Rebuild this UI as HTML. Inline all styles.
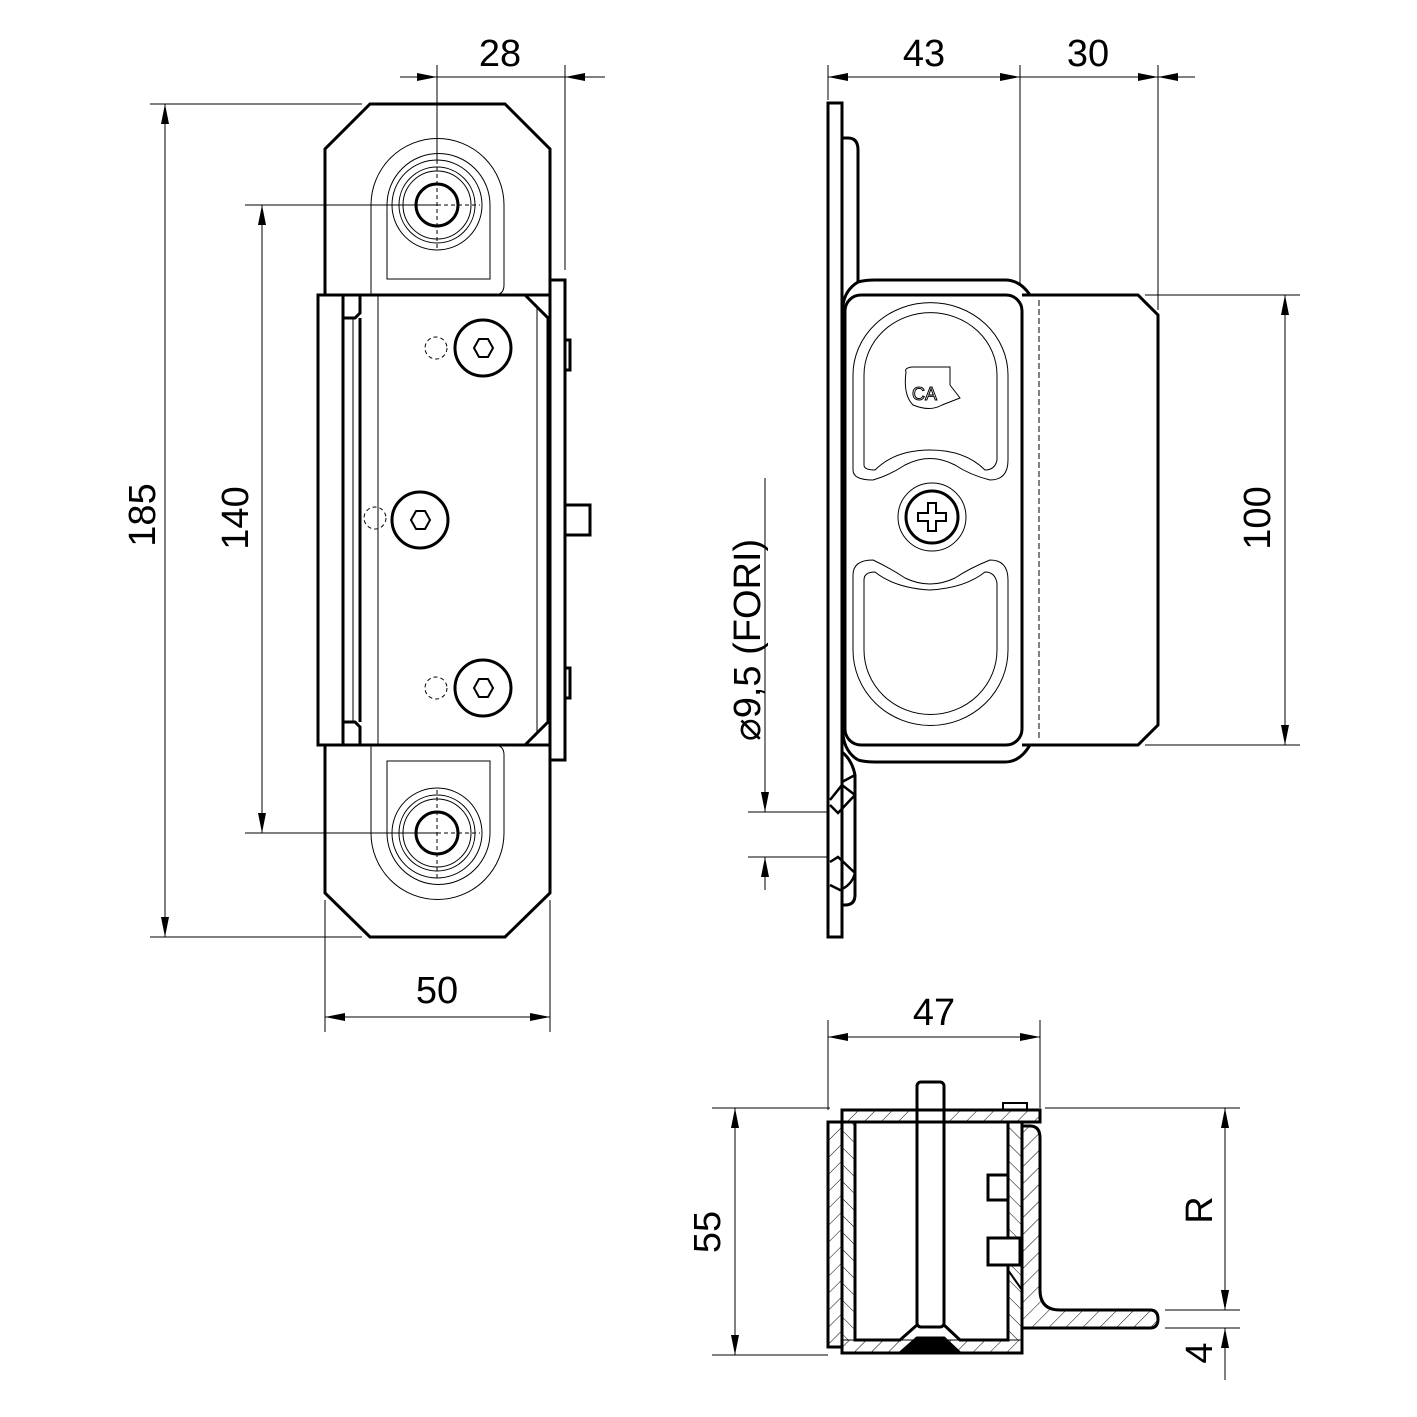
<!DOCTYPE html>
<html><head><meta charset="utf-8"><style>html,body{margin:0;padding:0;background:#fff}svg{display:block}</style></head>
<body>
<svg width="1417" height="1417" viewBox="0 0 1417 1417" xmlns="http://www.w3.org/2000/svg" font-family="Liberation Sans, sans-serif">
<defs>
<marker id="a" viewBox="0 0 20 8" refX="20" refY="4" markerWidth="20" markerHeight="8" orient="auto-start-reverse" markerUnits="userSpaceOnUse"><path d="M0,0 L20,4 L0,8 z" fill="#000"/></marker>
<pattern id="h" width="12" height="12" patternUnits="userSpaceOnUse" patternTransform="rotate(45)"><line x1="0" y1="0" x2="0" y2="12" stroke="#000" stroke-width="1"/></pattern>
<pattern id="h2" width="12" height="12" patternUnits="userSpaceOnUse" patternTransform="rotate(-45)"><line x1="0" y1="0" x2="0" y2="12" stroke="#000" stroke-width="1"/></pattern>
</defs>
<g fill="none" stroke="#000">
<!-- ===== FRONT VIEW ===== -->
<g stroke-width="3">
<path d="M325,295 V149 L370,104 H505 L550,149 V295"/>
<path d="M325,745 V893 L370,937 H505 L550,893 V745"/>
<rect x="318" y="295" width="232" height="450"/>
<rect x="550" y="280" width="15" height="480"/>
<line x1="343" y1="295" x2="343" y2="745"/>
<line x1="360" y1="318" x2="360" y2="722"/>
<path d="M343,318 H355 L360,313 V295"/>
<path d="M343,722 H355 L360,727 V745"/>
<path d="M525,295 L548,318 V722 L525,745"/>
<rect x="565" y="340" width="5" height="30"/>
<rect x="565" y="668" width="5" height="30"/>
<rect x="565" y="505" width="25" height="30"/>
</g>
<g stroke-width="1">
<line x1="378" y1="295" x2="378" y2="745"/>
<line x1="537" y1="308" x2="537" y2="732"/>
<line x1="353" y1="318" x2="353" y2="722"/>
<path d="M371,295 V205 A66,66 0 0 1 504,205 V285 Q504,295 494,295"/>
<path d="M387,279 V205 A50,50 0 0 1 490,205 V279 Z"/>
<circle cx="437" cy="205" r="45"/><circle cx="437" cy="205" r="38"/><circle cx="437" cy="205" r="34"/>
<path d="M371,745 V833 A66,66 0 0 0 504,833 V755 Q504,745 494,745"/>
<path d="M387,761 V833 A50,50 0 0 0 490,833 V761 Z"/>
<circle cx="437" cy="833" r="45"/><circle cx="437" cy="833" r="38"/><circle cx="437" cy="833" r="34"/>
<g stroke-dasharray="4,3"><circle cx="436" cy="348" r="11"/><circle cx="375" cy="518" r="11"/><circle cx="436" cy="688" r="11"/>
<line x1="437" y1="160" x2="437" y2="250"/><line x1="395" y1="205" x2="480" y2="205"/>
<line x1="437" y1="790" x2="437" y2="878"/><line x1="395" y1="833" x2="480" y2="833"/></g>
</g>
<g stroke-width="3">
<circle cx="437" cy="205" r="21"/><circle cx="437" cy="833" r="21"/>
<circle cx="483" cy="348" r="28"/><path d="M474,348 l5,-9 h9 l5,9 l-5,9 h-9z" stroke-width="2"/>
<circle cx="420" cy="520" r="28"/><path d="M411,520 l5,-9 h9 l5,9 l-5,9 h-9z" stroke-width="2"/>
<circle cx="483" cy="688" r="28"/><path d="M474,688 l5,-9 h9 l5,9 l-5,9 h-9z" stroke-width="2"/>
</g>
<g stroke-width="1">
<line x1="437" y1="65" x2="437" y2="160"/><line x1="565" y1="65" x2="565" y2="270"/>
<line x1="400" y1="77" x2="437" y2="77" marker-end="url(#a)"/><line x1="437" y1="77" x2="565" y2="77"/><line x1="605" y1="77" x2="565" y2="77" marker-end="url(#a)"/>
<line x1="150" y1="104" x2="362" y2="104"/><line x1="150" y1="937" x2="362" y2="937"/>
<line x1="165" y1="104" x2="165" y2="937" marker-start="url(#a)" marker-end="url(#a)"/>
<line x1="245" y1="205" x2="437" y2="205"/><line x1="245" y1="833" x2="437" y2="833"/>
<line x1="262" y1="205" x2="262" y2="833" marker-start="url(#a)" marker-end="url(#a)"/>
<line x1="325" y1="900" x2="325" y2="1032"/><line x1="550" y1="900" x2="550" y2="1032"/>
<line x1="325" y1="1017" x2="550" y2="1017" marker-start="url(#a)" marker-end="url(#a)"/>
</g>
<!-- ===== SIDE VIEW ===== -->
<g stroke-width="3">
<rect x="828" y="103" width="14" height="834"/>
<path d="M842,138 H848 Q858,138 858,150 V282"/>
<path d="M858,282 Q845,290 843,305 V735 Q845,752 858,760"/>
<path d="M858,282 Q865,280 875,280 H1005 Q1020,280 1030,295"/>
<path d="M858,760 Q865,762 875,762 H1005 Q1020,762 1030,745"/>
<rect x="845" y="295" width="177" height="450" rx="16"/>
<path d="M1022,295 H1138 L1158,315 V725 L1138,745 H1022"/>
<path d="M842,752 Q852,760 855,775 V895 Q855,905 845,905 H842" />
<path d="M842,782 L855,775 M830,800 L842,785 L855,795 L838,813 L830,805" stroke-width="2.5"/>
<path d="M830,862 L838,857 L855,873 Q852,885 840,890 L830,885" stroke-width="2.5"/>
</g>
<g stroke-width="1">
<line x1="1039" y1="300" x2="1039" y2="740" stroke-dasharray="6,3"/>
<path d="M853,470 V375 A75,70 0 0 1 1008,375 V460 Q1008,480 990,480 Q970,475 955,465 Q930,452 905,465 Q890,475 873,480 Q853,480 853,470 Z"/>
<path d="M864,465 V375 A64,60 0 0 1 997,375 V460 Q995,470 985,470 Q965,450 930,450 Q895,450 875,470 Q864,470 864,465 Z"/>
<path d="M853,575 V650 A77,75 0 0 0 1008,650 V580 Q1008,560 990,560 Q970,568 955,578 Q930,590 905,578 Q890,568 873,560 Q853,560 853,575 Z"/>
<path d="M864,580 V650 A66,64 0 0 0 997,650 V583 Q995,572 985,572 Q965,588 930,590 Q895,588 875,572 Q864,572 864,580 Z"/>
<path d="M906,372 Q904,368 912,367 H950 V385 L960,398 L942,405 Q930,412 913,405 Q903,395 906,372Z"/>
<text x="912" y="400" font-size="18" fill="none" stroke="#000" stroke-width="1">CA</text>
<circle cx="932" cy="517" r="34"/>
<line x1="828" y1="65" x2="828" y2="100"/><line x1="1020" y1="65" x2="1020" y2="285"/><line x1="1158" y1="65" x2="1158" y2="310"/>
<line x1="828" y1="77" x2="1020" y2="77" marker-start="url(#a)" marker-end="url(#a)"/>
<line x1="1020" y1="77" x2="1158" y2="77" marker-end="url(#a)"/><line x1="1195" y1="77" x2="1158" y2="77" marker-end="url(#a)"/>
<line x1="1145" y1="295" x2="1300" y2="295"/><line x1="1145" y1="745" x2="1300" y2="745"/>
<line x1="1285" y1="295" x2="1285" y2="745" marker-start="url(#a)" marker-end="url(#a)"/>
<line x1="748" y1="812" x2="828" y2="812"/><line x1="748" y1="857" x2="828" y2="857"/>
<line x1="765" y1="478" x2="765" y2="812" marker-end="url(#a)"/><line x1="765" y1="890" x2="765" y2="857" marker-end="url(#a)"/>
</g>
<g stroke-width="3">
<circle cx="932" cy="517" r="26"/>
<path d="M928,503 h8 v10 h10 v8 h-10 v10 h-8 v-10 h-10 v-8 h10z" stroke-width="2"/>
</g>
<!-- ===== SECTION VIEW ===== -->
<g stroke-width="1">
<rect x="828" y="1122" width="14" height="225" fill="url(#h)"/>
<rect x="842" y="1122" width="13" height="218" fill="url(#h2)"/>
<rect x="1008" y="1122" width="13" height="218" fill="url(#h2)"/>
<rect x="842" y="1110" width="198" height="12" fill="url(#h)"/>
<rect x="842" y="1340" width="180" height="13" fill="url(#h)"/>
<path d="M1021,1126 H1030 Q1040,1126 1040,1138 V1290 Q1040,1310 1060,1310 H1150 Q1158,1310 1158,1319 Q1158,1328 1150,1328 H1021Z" fill="url(#h)"/>
<line x1="828" y1="1020" x2="828" y2="1110"/><line x1="1040" y1="1020" x2="1040" y2="1108"/>
<line x1="828" y1="1037" x2="1040" y2="1037" marker-start="url(#a)" marker-end="url(#a)"/>
<line x1="712" y1="1108" x2="830" y2="1108"/><line x1="712" y1="1355" x2="828" y2="1355"/>
<line x1="735" y1="1108" x2="735" y2="1355" marker-start="url(#a)" marker-end="url(#a)"/>
<line x1="1045" y1="1108" x2="1240" y2="1108"/><line x1="1165" y1="1310" x2="1240" y2="1310"/><line x1="1165" y1="1328" x2="1240" y2="1328"/>
<line x1="1225" y1="1108" x2="1225" y2="1310" marker-start="url(#a)" marker-end="url(#a)"/>
<line x1="1225" y1="1280" x2="1225" y2="1310" marker-end="url(#a)"/>
<line x1="1225" y1="1380" x2="1225" y2="1328"/>
<line x1="1225" y1="1360" x2="1225" y2="1328" marker-end="url(#a)"/>
</g>
<g stroke-width="3">
<rect x="828" y="1122" width="14" height="225"/>
<path d="M842,1122 V1353 H1022 V1122"/>
<path d="M855,1122 V1340 H900 L917,1325 M944,1325 L960,1340 H1008 V1122"/>
<path d="M1021,1126 H1030 Q1040,1126 1040,1138 V1290 Q1040,1310 1060,1310 H1150 Q1158,1310 1158,1319 Q1158,1328 1150,1328 H1022"/>
<path d="M1008,1270 L1022,1290" stroke-width="2"/>
<rect x="917" y="1082" width="27" height="245" rx="4" fill="#fff"/>
<path d="M900,1353 L917,1338 H944 L960,1353Z" fill="#000"/>
<path d="M988,1175 H1008 V1200 H988Z M988,1238 H1020 V1265 H988Z" fill="#fff"/>
<rect x="842" y="1110" width="198" height="12"/>
<rect x="1003" y="1103" width="24" height="7" stroke-width="2"/>
</g>
</g>
<g font-size="38" fill="#000" text-anchor="middle">
<text x="500" y="66">28</text>
<text x="924" y="66">43</text>
<text x="1088" y="66">30</text>
<text x="437" y="1003">50</text>
<text x="934" y="1025">47</text>
<text transform="translate(155,515) rotate(-90)">185</text>
<text transform="translate(248,518) rotate(-90)">140</text>
<text transform="translate(1270,518) rotate(-90)">100</text>
<text transform="translate(720,1232) rotate(-90)">55</text>
<text transform="translate(1212,1210) rotate(-90)">R</text>
<text transform="translate(1212,1353) rotate(-90)">4</text>
<text transform="translate(760,640) rotate(-90)">⌀9,5 (FORI)</text>
</g>
</svg>
</body></html>
